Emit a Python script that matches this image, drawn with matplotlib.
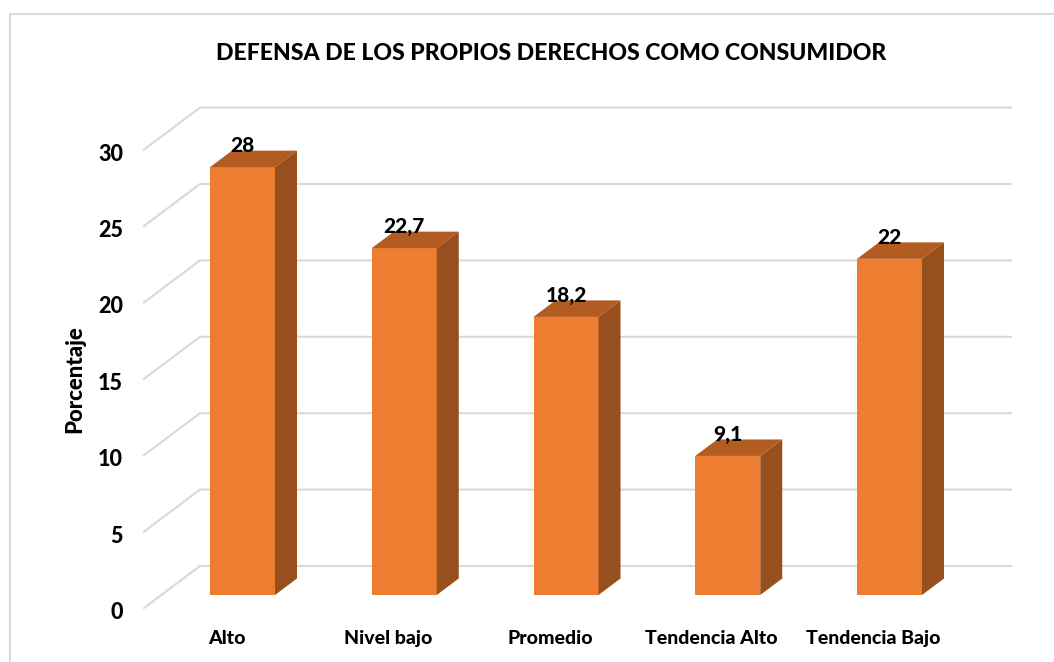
import matplotlib
matplotlib.use("Agg")
import matplotlib.pyplot as plt
from matplotlib.patches import Polygon
from matplotlib.lines import Line2D
from matplotlib.transforms import Affine2D

categories = ["Alto", "Nivel bajo", "Promedio", "Tendencia Alto", "Tendencia Bajo"]
values = [28, 22.7, 18.2, 9.1, 22]
y_ticks = [0, 5, 10, 15, 20, 25, 30]
title = "DEFENSA DE LOS PROPIOS DERECHOS COMO CONSUMIDOR"
y_label = "Porcentaje"

FRONT, SIDE, TOP, GRID = "#ED7D31", "#974F1D", "#B35C22", "#D9D9D9"
W, H = 1054, 662
plt.rcParams["font.family"] = ["Lato", "DejaVu Sans"]
plt.rcParams["font.weight"] = 900

fig = plt.figure(figsize=(W / 100, H / 100), dpi=100, facecolor="white")

# axes: y=0 at pixel row 595, y=30 at 595-30*PX_Y; x=0 at column 242.5
PX_X, PX_Y = 161.75, 15.28
X0, Y0 = 242.5, 595
ax_left, ax_right = 144, 1011
ax_top = Y0 - 30 * PX_Y
ax = fig.add_axes([ax_left / W, (H - Y0) / H, (ax_right - ax_left) / W, (Y0 - ax_top) / H])
ax.set_xlim((ax_left - X0) / PX_X, (ax_right - X0) / PX_X)
ax.set_ylim(0, 30)
ax.patch.set_alpha(0)
for s in ax.spines.values():
    s.set_visible(False)

# depth offsets in data units
bw = 65 / PX_X
bar_dx, bar_dy = 22 / PX_X, 16.5 / PX_Y
wall_x = (200 - X0) / PX_X
wall_dy = 29 / PX_Y
side_dy = -13 / PX_Y
front_x = (144 - X0) / PX_X
end_x = (1011 - X0) / PX_X

for v in y_ticks:
    ax.plot([front_x, wall_x, end_x], [v + side_dy, v + wall_dy, v + wall_dy],
            color=GRID, lw=1.5, clip_on=False, zorder=1, solid_joinstyle="miter")

xs = list(range(len(categories)))
ax.bar(xs, values, width=bw, color=FRONT, zorder=3, clip_on=False)
for x, v in zip(xs, values):
    l, r = x - bw / 2, x + bw / 2
    ax.add_patch(Polygon([(r, 0), (r + bar_dx, bar_dy), (r + bar_dx, v + bar_dy), (r, v)],
                         closed=True, fc=SIDE, ec="none", zorder=3, clip_on=False))
    ax.add_patch(Polygon([(l, v), (l + bar_dx, v + bar_dy), (r + bar_dx, v + bar_dy), (r, v)],
                         closed=True, fc=TOP, ec="none", zorder=3, clip_on=False))
    ax.annotate(str(v).replace(".", ","), (x, v), xytext=(0, 21.5 * 0.72), textcoords="offset points",
                ha="center", va="center", fontsize=15, color="black", zorder=5,
                annotation_clip=False)

ax.set_yticks(y_ticks)
ax.set_yticklabels([str(v) for v in y_ticks], fontsize=15.5, color="black")
ax.set_xticks(xs)
ax.set_xticklabels(categories, fontsize=14, color="black")
ax.tick_params(axis="both", length=0)
ax.tick_params(axis="y", pad=15)
ax.tick_params(axis="x", pad=25)
for lab in ax.get_yticklabels():
    lab.set_transform(lab.get_transform() + Affine2D().translate(0, -15.5))
for lab in ax.get_xticklabels():
    lab.set_transform(lab.get_transform() + Affine2D().translate(-16, 0))

fig.text(75 / W, 1 - 379.5 / H, y_label, rotation=90, ha="center", va="center",
         fontsize=16, color="black")
fig.text(551 / W, 1 - 53 / H, title, ha="center", va="center", fontsize=16.6, color="black")

fig.add_artist(Line2D([10 / W, 10 / W, 1], [0, 1 - 14 / H, 1 - 14 / H], color=GRID, lw=1.5,
                      solid_joinstyle="miter"))

fig.savefig("out.png", dpi=100, facecolor="white")
